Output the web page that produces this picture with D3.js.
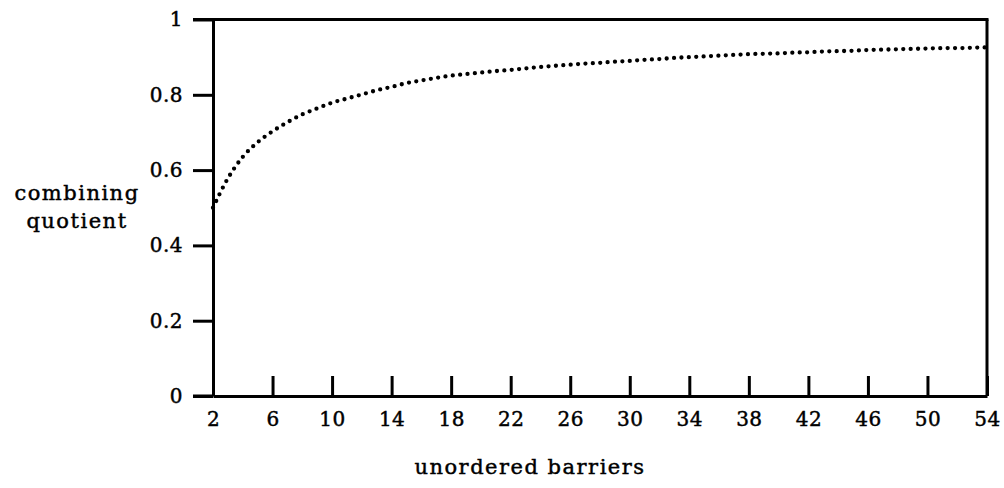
<!DOCTYPE html>
<html>
<head>
<meta charset="utf-8">
<script src="https://cdn.jsdelivr.net/npm/d3@7"></script>
<style>
  body { margin: 0; background: #fff; }
  text { font-family: "DejaVu Serif", serif; fill: #000; stroke: #000; stroke-width: 0.45px; }
</style>
</head>
<body>
<svg id="chart" width="1004" height="488"></svg>
<script>
// barriers (x) and combining quotient (y)
let barriers = d3.range(2, 55);
let quotient = [
  0.500, 0.578, 0.635, 0.674, 0.703, 0.727, 0.748, 0.764, 0.779, 0.790,
  0.801, 0.812, 0.821, 0.831, 0.838, 0.845, 0.851, 0.855, 0.859, 0.863,
  0.866, 0.870, 0.874, 0.877, 0.880, 0.883, 0.885, 0.888, 0.890, 0.893,
  0.895, 0.898, 0.900, 0.902, 0.904, 0.906, 0.908, 0.909, 0.910, 0.912,
  0.913, 0.915, 0.916, 0.917, 0.919, 0.920, 0.921, 0.922, 0.923, 0.924,
  0.924, 0.925, 0.926
];
let xTicks = [2, 6, 10, 14, 18, 22, 26, 30, 34, 38, 42, 46, 50, 54];
let yTicks = [0, 0.2, 0.4, 0.6, 0.8, 1];

let svg = d3.select("#chart");

let x = d3.scaleLinear().domain([2, 54]).range([213, 987]);
let y = d3.scaleLinear().domain([0, 1]).range([396, 19.5]);

let data = barriers.map((b, i) => ({ b: b, q: quotient[i] }));

// the dotted curve
let line = d3.line()
  .x(d => x(d.b))
  .y(d => y(d.q))
  .curve(d3.curveMonotoneX);

svg.append("path")
  .datum(data)
  .attr("d", line)
  .attr("fill", "none")
  .attr("stroke", "#000")
  .attr("stroke-width", 4.3)
  .attr("stroke-linecap", "round")
  .attr("stroke-dasharray", "0 7.4");

// axes
let xAxis = svg.append("g")
  .attr("transform", "translate(0,396)")
  .call(d3.axisBottom(x).tickValues(xTicks).tickSize(-20).tickSizeOuter(0).tickPadding(30));

let yAxis = svg.append("g")
  .attr("transform", "translate(213,0)")
  .call(d3.axisLeft(y).tickValues(yTicks).tickSize(20).tickSizeOuter(0).tickPadding(10)
    .tickFormat(d3.format("")));

[xAxis, yAxis].forEach(g => {
  g.select(".domain").attr("stroke", "#000").attr("stroke-width", 3);
  g.selectAll(".tick line").attr("stroke", "#000").attr("stroke-width", 3);
  g.selectAll(".tick text")
    .attr("font-family", "DejaVu Serif")
    .attr("font-size", 20)
    .attr("letter-spacing", 0.5)
    .attr("fill", "#000");
});
xAxis.selectAll(".tick text").attr("dy", "0");

// extend bottom axis to the left like the original
svg.append("line")
  .attr("x1", 193).attr("x2", 213)
  .attr("y1", y(0)).attr("y2", y(0))
  .attr("stroke", "#000").attr("stroke-width", 3);

// top and right border
svg.append("line")
  .attr("x1", 193).attr("x2", x(54) + 1.5)
  .attr("y1", y(1)).attr("y2", y(1))
  .attr("stroke", "#000").attr("stroke-width", 3);
svg.append("line")
  .attr("x1", x(54)).attr("x2", x(54))
  .attr("y1", y(1)).attr("y2", y(0))
  .attr("stroke", "#000").attr("stroke-width", 3);

// axis titles
let ylab = svg.append("text")
  .attr("text-anchor", "middle")
  .attr("font-size", 21)
  .attr("letter-spacing", 1.5);
ylab.append("tspan").attr("x", 77).attr("y", 200).text("combining");
ylab.append("tspan").attr("x", 77).attr("y", 228).text("quotient");

svg.append("text")
  .attr("x", 530)
  .attr("y", 474)
  .attr("text-anchor", "middle")
  .attr("font-size", 21)
  .attr("letter-spacing", 1.5)
  .text("unordered barriers");
</script>
</body>
</html>
